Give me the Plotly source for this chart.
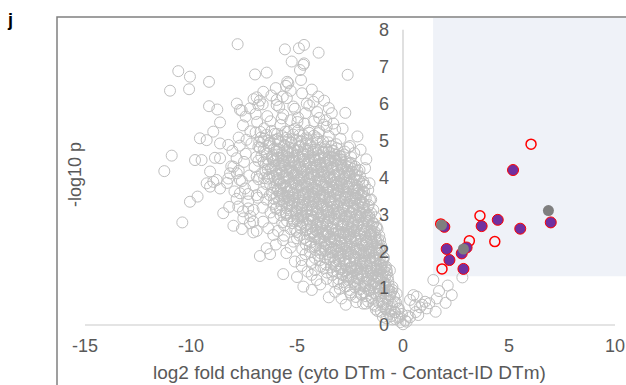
import plotly.graph_objects as go

# ---- data: log2 fold change (x) and -log10 p (y) ----
# background proteins (open grey circles), sparse outer points
outer_pts = [
    (-7.80, 7.61), (-10.60, 6.88), (-10.05, 6.73), (-9.15, 6.59), (-10.99, 6.35), (-10.09, 6.39),
    (-6.98, 6.79), (-6.43, 6.84), (-5.57, 7.47), (-4.91, 7.50), (-4.67, 7.59), (-5.25, 7.14),
    (-4.67, 7.09), (-4.86, 6.91), (-4.81, 6.64), (-5.46, 6.59), (-5.52, 6.48), (-3.98, 7.38),
    (-9.15, 5.93), (-8.76, 5.84), (-7.84, 6.00), (-8.63, 5.49), (-7.61, 5.81), (-7.42, 5.65),
    (-7.22, 5.87), (-6.90, 6.17), (-6.59, 6.32), (-9.58, 5.06), (-9.26, 5.01), (-8.95, 5.24),
    (-8.63, 4.92), (-10.91, 4.59), (-11.26, 4.17), (-9.81, 4.47), (-9.50, 4.47), (-8.87, 4.53),
    (-8.63, 4.52), (-9.10, 4.16), (-9.26, 3.84), (-9.10, 3.75), (-8.63, 3.70), (-8.16, 4.11),
    (-10.05, 3.34), (-9.69, 3.48), (-10.41, 2.78), (-8.48, 3.03), (-8.00, 2.69), (-7.53, 2.89),
    (-7.06, 2.80), (-7.06, 2.51), (-6.75, 1.87), (-6.27, 1.92), (-6.43, 2.08), (-5.65, 1.38),
    (-4.70, 1.04), (-4.78, 1.76), (-4.78, 1.60), (-4.31, 1.36), (-4.15, 1.49), (-4.07, 1.22),
    (-4.39, 2.12), (-6.12, 2.44), (-5.65, 2.30), (-5.17, 2.26),
    (-2.61, 6.78), (-5.41, 6.55), (-4.70, 7.05), (-4.00, 6.19), (-3.36, 5.74), (-2.72, 5.75),
    (-2.15, 5.11), (-2.50, 4.85), (-2.00, 4.75), (-1.73, 4.49), (-3.13, 4.61), (-4.54, 6.00),
    (-4.23, 6.05), (-5.17, 5.92), (-5.96, 5.96), (-3.29, 5.46), (-3.60, 5.37), (-2.58, 4.81),
    (-2.26, 4.29), (-1.87, 3.88), (-1.64, 3.66), (-1.79, 4.25), (-1.58, 3.84), (-1.56, 3.39),
    (-1.40, 3.12), (-1.24, 2.66), (-1.17, 2.30), (-0.93, 1.76), (-0.77, 1.49),
    (-7.69, 5.83), (-6.82, 5.96), (-6.75, 6.08), (-5.96, 6.10), (-5.67, 6.19), (-8.24, 3.97),
    (-8.24, 4.88), (-8.00, 4.29), (-7.84, 4.11), (-7.69, 3.93), (-8.95, 3.88), (-8.79, 3.93),
    (-7.69, 3.57), (-7.77, 3.21), (-7.30, 3.16), (-7.22, 2.76),
]

# background proteins, central arm of the volcano
core_pts = [
    (-7.05, 6.12), (-6.62, 5.98), (-6.21, 6.22), (-5.84, 5.91), (-5.48, 6.15), (-5.10, 5.86),
    (-4.76, 6.28), (-4.42, 5.95), (-4.05, 5.77), (-3.72, 6.08), (-6.95, 5.72), (-6.40, 5.66),
    (-5.65, 5.70), (-4.95, 5.62), (-4.60, 5.74), (-3.95, 5.61), (-3.50, 5.88), (-5.30, 6.35),
    (-6.00, 6.42), (-4.30, 6.38),
    (-7.55, 5.41), (-7.20, 5.25), (-6.88, 5.50), (-6.55, 5.33), (-6.25, 5.52), (-6.05, 5.18),
    (-5.78, 5.42), (-5.55, 5.24), (-5.30, 5.55), (-5.12, 5.31), (-4.88, 5.15), (-4.65, 5.46),
    (-4.42, 5.27), (-4.20, 5.52), (-3.98, 5.20), (-3.75, 5.43), (-3.50, 5.12), (-3.20, 5.30),
    (-2.95, 5.05), (-7.75, 5.08), (-7.38, 5.02), (-6.70, 5.08), (-6.35, 5.00), (-5.92, 5.04),
    (-5.42, 5.02), (-4.98, 5.50), (-4.50, 5.02), (-4.08, 5.08), (-3.62, 5.55), (-2.85, 5.32),
    (-5.72, 5.60), (-6.95, 5.22),
    (-8.05, 4.72), (-7.70, 4.86), (-7.42, 4.64), (-7.15, 4.92), (-6.92, 4.55), (-6.75, 4.80),
    (-6.52, 4.68), (-6.30, 4.93), (-6.12, 4.60), (-5.95, 4.78), (-5.75, 4.52), (-5.60, 4.88),
    (-5.42, 4.70), (-5.25, 4.95), (-5.10, 4.58), (-4.92, 4.82), (-4.75, 4.62), (-4.58, 4.90),
    (-4.40, 4.55), (-4.22, 4.75), (-4.05, 4.95), (-3.88, 4.60), (-3.70, 4.82), (-3.52, 4.52),
    (-3.35, 4.72), (-3.15, 4.90), (-2.95, 4.58), (-2.75, 4.70), (-2.45, 4.55), (-2.30, 4.66),
    (-7.85, 4.52), (-6.60, 4.98), (-5.88, 4.98), (-5.18, 4.78), (-4.50, 4.72), (-3.98, 4.50),
    (-3.30, 4.55), (-6.40, 4.50), (-5.50, 4.55), (-4.85, 4.98),
    (-8.10, 4.30), (-7.75, 4.18), (-7.50, 4.42), (-7.25, 4.05), (-7.00, 4.28), (-6.82, 4.45),
    (-6.65, 4.12), (-6.48, 4.35), (-6.30, 4.02), (-6.15, 4.25), (-6.00, 4.46), (-5.85, 4.10),
    (-5.70, 4.32), (-5.55, 4.05), (-5.40, 4.22), (-5.25, 4.44), (-5.10, 4.08), (-4.95, 4.30),
    (-4.80, 4.02), (-4.65, 4.18), (-4.50, 4.40), (-4.35, 4.12), (-4.20, 4.28), (-4.05, 4.05),
    (-3.90, 4.38), (-3.75, 4.15), (-3.60, 4.32), (-3.45, 4.02), (-3.30, 4.22), (-3.15, 4.45),
    (-3.00, 4.10), (-2.85, 4.30), (-2.70, 4.05), (-2.55, 4.38), (-2.40, 4.15), (-2.20, 4.05),
    (-2.05, 4.20), (-6.90, 4.02), (-5.62, 4.42), (-4.88, 4.48), (-4.12, 4.46), (-3.52, 4.45),
    (-2.90, 4.48), (-6.38, 4.22), (-5.18, 4.15), (-3.82, 4.02), (-2.62, 4.20),
    (-8.30, 3.85), (-7.95, 3.62), (-7.60, 3.90), (-7.30, 3.55), (-7.05, 3.78), (-6.82, 3.95),
    (-6.62, 3.60), (-6.45, 3.82), (-6.28, 3.52), (-6.12, 3.72), (-5.98, 3.92), (-5.82, 3.58),
    (-5.68, 3.80), (-5.52, 3.98), (-5.38, 3.62), (-5.22, 3.85), (-5.08, 3.55), (-4.92, 3.75),
    (-4.78, 3.95), (-4.62, 3.60), (-4.48, 3.82), (-4.32, 3.52), (-4.18, 3.72), (-4.02, 3.92),
    (-3.88, 3.58), (-3.72, 3.80), (-3.58, 3.98), (-3.42, 3.62), (-3.28, 3.85), (-3.12, 3.55),
    (-2.98, 3.75), (-2.82, 3.95), (-2.68, 3.60), (-2.52, 3.82), (-2.38, 3.52), (-2.22, 3.72),
    (-2.08, 3.92), (-1.92, 3.60), (-1.80, 3.78), (-6.90, 3.52), (-5.90, 3.70), (-5.45, 3.50),
    (-4.70, 3.78), (-4.10, 3.55), (-3.50, 3.72), (-3.00, 3.90), (-2.60, 3.75), (-2.15, 3.55),
    (-5.00, 3.98), (-4.40, 3.98), (-3.80, 3.50), (-6.55, 3.98), (-7.45, 3.70),
    (-8.20, 3.20), (-7.85, 3.42), (-7.55, 3.08), (-7.30, 3.35), (-7.05, 3.12), (-6.85, 3.45),
    (-6.62, 3.18), (-6.45, 3.40), (-6.25, 3.05), (-6.10, 3.28), (-5.95, 3.48), (-5.80, 3.12),
    (-5.65, 3.35), (-5.50, 3.02), (-5.35, 3.22), (-5.20, 3.45), (-5.05, 3.10), (-4.90, 3.32),
    (-4.75, 3.02), (-4.60, 3.25), (-4.45, 3.48), (-4.30, 3.12), (-4.15, 3.35), (-4.00, 3.05),
    (-3.85, 3.25), (-3.70, 3.45), (-3.55, 3.10), (-3.40, 3.32), (-3.25, 3.02), (-3.10, 3.22),
    (-2.95, 3.45), (-2.80, 3.10), (-2.65, 3.30), (-2.50, 3.02), (-2.35, 3.22), (-2.20, 3.45),
    (-2.05, 3.12), (-1.90, 3.32), (-1.75, 3.05), (-1.62, 3.25), (-1.50, 3.40), (-6.00, 3.15),
    (-5.40, 3.40), (-4.80, 3.18), (-4.20, 3.48), (-3.60, 3.25), (-3.00, 3.05), (-2.40, 3.38),
    (-1.85, 3.48), (-5.75, 3.48), (-3.95, 3.42), (-2.75, 3.45),
    (-7.60, 2.60), (-7.20, 2.95), (-6.90, 2.55), (-6.60, 2.80), (-6.35, 2.62), (-6.10, 2.90),
    (-5.90, 2.55), (-5.70, 2.78), (-5.50, 2.98), (-5.30, 2.60), (-5.15, 2.82), (-5.00, 2.52),
    (-4.85, 2.72), (-4.70, 2.95), (-4.55, 2.58), (-4.40, 2.80), (-4.25, 2.50), (-4.10, 2.70),
    (-3.95, 2.92), (-3.80, 2.55), (-3.65, 2.78), (-3.50, 2.98), (-3.35, 2.62), (-3.20, 2.85),
    (-3.05, 2.52), (-2.90, 2.72), (-2.75, 2.95), (-2.60, 2.58), (-2.45, 2.80), (-2.30, 2.52),
    (-2.15, 2.72), (-2.00, 2.95), (-1.85, 2.60), (-1.70, 2.82), (-1.55, 2.55), (-1.42, 2.75),
    (-1.30, 2.92), (-1.20, 2.60), (-4.95, 2.95), (-4.30, 2.98), (-3.60, 2.50), (-2.85, 2.50),
    (-2.20, 2.98), (-1.60, 2.98), (-3.90, 2.75), (-5.60, 2.70),
    (-6.00, 2.18), (-5.60, 2.42), (-5.30, 2.10), (-5.00, 2.35), (-4.75, 2.05), (-4.55, 2.30),
    (-4.35, 2.48), (-4.15, 2.12), (-4.00, 2.35), (-3.85, 2.02), (-3.70, 2.22), (-3.55, 2.45),
    (-3.40, 2.10), (-3.25, 2.32), (-3.10, 2.02), (-2.95, 2.25), (-2.80, 2.48), (-2.65, 2.12),
    (-2.50, 2.35), (-2.35, 2.05), (-2.20, 2.28), (-2.05, 2.48), (-1.90, 2.15), (-1.75, 2.38),
    (-1.60, 2.05), (-1.45, 2.25), (-1.32, 2.45), (-1.20, 2.10), (-1.08, 2.30), (-0.98, 2.05),
    (-3.20, 2.48), (-2.60, 2.40), (-2.00, 2.02), (-1.50, 2.45), (-3.75, 2.40), (-2.90, 2.05),
    (-2.30, 2.42), (-1.70, 2.20),
    (-5.50, 1.95), (-5.10, 1.72), (-4.60, 1.92), (-4.30, 1.68), (-4.00, 1.88), (-3.75, 1.55),
    (-3.55, 1.78), (-3.35, 1.98), (-3.20, 1.60), (-3.05, 1.82), (-2.90, 1.52), (-2.75, 1.72),
    (-2.60, 1.95), (-2.45, 1.58), (-2.30, 1.80), (-2.15, 1.52), (-2.00, 1.72), (-1.85, 1.95),
    (-1.70, 1.60), (-1.55, 1.82), (-1.40, 1.55), (-1.28, 1.75), (-1.15, 1.95), (-1.02, 1.60),
    (-0.90, 1.82), (-0.80, 1.58), (-3.00, 1.95), (-2.20, 1.98), (-1.60, 1.98), (-2.55, 1.52),
    (-1.90, 1.68), (-1.20, 1.52),
    (-5.00, 1.30), (-4.50, 1.45), (-3.60, 1.25), (-3.30, 1.45), (-3.05, 1.12), (-2.85, 1.35),
    (-2.65, 1.05), (-2.45, 1.28), (-2.30, 1.48), (-2.15, 1.15), (-2.00, 1.38), (-1.85, 1.05),
    (-1.70, 1.25), (-1.55, 1.45), (-1.42, 1.12), (-1.30, 1.32), (-1.18, 1.02), (-1.05, 1.22),
    (-0.92, 1.42), (-0.82, 1.10), (-0.72, 1.30), (-0.62, 1.48), (-1.90, 1.45), (-1.10, 1.45),
    (-2.55, 1.42), (-3.90, 1.10),
    (-4.30, 0.95), (-3.50, 0.75), (-3.20, 0.90), (-2.90, 0.72), (-2.50, 0.88), (-2.20, 0.62),
    (-1.95, 0.82), (-1.75, 0.58), (-1.60, 0.95), (-1.45, 0.72), (-1.30, 0.52), (-1.15, 0.85),
    (-1.00, 0.65), (-0.88, 0.92), (-0.75, 0.55), (-0.62, 0.78), (-0.50, 0.95), (-0.40, 0.62),
    (-0.30, 0.85), (-2.70, 0.55), (-0.95, 0.50),
    (-1.20, 0.38), (-0.95, 0.22), (-0.80, 0.42), (-0.65, 0.30), (-0.50, 0.15), (-0.38, 0.35),
    (-0.25, 0.20), (-0.12, 0.08), (0.00, 0.02), (0.10, 0.12), (-0.20, 0.45), (-0.55, 0.45),
    (0.22, 0.25), (-0.05, 0.30),
]

# background proteins in the crowded part of the arm, row by row (x values, y values)
dense_rows = [
    ([-6.72, -6.45, -6.20, -5.93, -5.70, -5.44, -5.18, -4.95, -4.70, -4.43, -4.20, -3.95],
     [5.23, 5.15, 5.26, 5.18, 5.12, 5.24, 5.16, 5.27, 5.14, 5.21, 5.13, 5.25]),
    ([-6.78, -6.55, -6.28, -6.02, -5.80, -5.52, -5.27, -5.03, -4.78, -4.52, -4.28, -4.03, -3.77, -3.52],
     [4.97, 5.05, 4.93, 5.02, 4.96, 5.07, 4.94, 5.01, 4.97, 5.06, 4.92, 5.03, 4.98, 4.95]),
    ([-6.82, -6.57, -6.33, -6.08, -5.83, -5.60, -5.35, -5.10, -4.85, -4.62, -4.37, -4.12, -3.88, -3.63, -3.38, -3.12],
     [4.83, 4.76, 4.85, 4.78, 4.74, 4.86, 4.80, 4.73, 4.84, 4.77, 4.87, 4.75, 4.81, 4.76, 4.85, 4.79]),
    ([-6.68, -6.42, -6.18, -5.95, -5.70, -5.45, -5.20, -4.97, -4.72, -4.48, -4.23, -3.98, -3.75, -3.50, -3.25, -3.00, -2.78],
     [4.57, 4.64, 4.55, 4.62, 4.58, 4.66, 4.54, 4.61, 4.57, 4.65, 4.53, 4.60, 4.67, 4.56, 4.63, 4.58, 4.62]),
    ([-6.58, -6.35, -6.10, -5.86, -5.62, -5.38, -5.13, -4.90, -4.66, -4.40, -4.17, -3.92, -3.68, -3.43, -3.20, -2.95, -2.70, -2.45],
     [4.42, 4.36, 4.44, 4.38, 4.35, 4.45, 4.39, 4.34, 4.43, 4.37, 4.46, 4.35, 4.41, 4.38, 4.44, 4.36, 4.42, 4.39]),
    ([-6.48, -6.23, -6.00, -5.75, -5.50, -5.27, -5.02, -4.78, -4.55, -4.30, -4.06, -3.82, -3.57, -3.33, -3.10, -2.85, -2.60, -2.37, -2.15],
     [4.18, 4.24, 4.16, 4.22, 4.17, 4.25, 4.19, 4.15, 4.23, 4.18, 4.26, 4.16, 4.21, 4.24, 4.17, 4.22, 4.15, 4.23, 4.18]),
    ([-6.38, -6.13, -5.90, -5.65, -5.40, -5.16, -4.92, -4.68, -4.44, -4.20, -3.95, -3.72, -3.48, -3.23, -3.00, -2.75, -2.52, -2.28, -2.03],
     [3.97, 4.04, 3.95, 4.02, 3.98, 4.06, 3.96, 4.01, 3.97, 4.05, 3.94, 4.03, 3.99, 3.95, 4.04, 3.98, 4.02, 3.96, 4.03]),
    ([-6.27, -6.03, -5.78, -5.55, -5.30, -5.06, -4.82, -4.57, -4.33, -4.10, -3.85, -3.61, -3.37, -3.12, -2.88, -2.65, -2.40, -2.16, -1.92],
     [3.82, 3.76, 3.84, 3.78, 3.74, 3.85, 3.79, 3.75, 3.83, 3.77, 3.86, 3.74, 3.81, 3.78, 3.84, 3.76, 3.82, 3.77, 3.83]),
    ([-6.18, -5.93, -5.70, -5.45, -5.20, -4.97, -4.73, -4.48, -4.25, -4.00, -3.76, -3.52, -3.28, -3.04, -2.80, -2.56, -2.32, -2.08, -1.84],
     [3.58, 3.64, 3.56, 3.62, 3.57, 3.65, 3.55, 3.61, 3.58, 3.66, 3.54, 3.60, 3.63, 3.57, 3.62, 3.55, 3.64, 3.58, 3.61]),
    ([-6.08, -5.84, -5.60, -5.36, -5.12, -4.88, -4.64, -4.40, -4.16, -3.92, -3.68, -3.44, -3.20, -2.96, -2.72, -2.48, -2.24, -2.00, -1.76],
     [3.42, 3.36, 3.44, 3.38, 3.35, 3.45, 3.39, 3.34, 3.43, 3.37, 3.46, 3.35, 3.41, 3.38, 3.44, 3.36, 3.42, 3.37, 3.43]),
    ([-5.97, -5.72, -5.48, -5.25, -5.00, -4.77, -4.53, -4.29, -4.05, -3.81, -3.57, -3.33, -3.09, -2.85, -2.61, -2.37, -2.13, -1.89, -1.66],
     [3.18, 3.24, 3.16, 3.22, 3.17, 3.25, 3.15, 3.21, 3.18, 3.26, 3.14, 3.20, 3.23, 3.17, 3.22, 3.15, 3.24, 3.18, 3.21]),
    ([-5.78, -5.53, -5.30, -5.06, -4.82, -4.58, -4.34, -4.10, -3.86, -3.62, -3.38, -3.14, -2.90, -2.66, -2.42, -2.18, -1.94, -1.70, -1.50],
     [2.98, 3.04, 2.95, 3.02, 2.97, 3.05, 2.96, 3.01, 2.97, 3.06, 2.94, 3.03, 2.99, 2.95, 3.04, 2.97, 3.02, 2.96, 3.03]),
    ([-5.47, -5.22, -4.98, -4.74, -4.50, -4.26, -4.02, -3.78, -3.54, -3.30, -3.06, -2.82, -2.58, -2.34, -2.10, -1.86, -1.62, -1.40],
     [2.82, 2.76, 2.84, 2.78, 2.74, 2.85, 2.79, 2.75, 2.83, 2.77, 2.86, 2.74, 2.81, 2.78, 2.84, 2.76, 2.82, 2.77]),
    ([-5.08, -4.84, -4.60, -4.36, -4.12, -3.88, -3.64, -3.40, -3.16, -2.92, -2.68, -2.44, -2.20, -1.96, -1.72, -1.48, -1.27],
     [2.58, 2.64, 2.56, 2.62, 2.57, 2.65, 2.55, 2.61, 2.58, 2.66, 2.54, 2.60, 2.63, 2.57, 2.62, 2.55, 2.64]),
    ([-4.88, -4.64, -4.40, -4.16, -3.92, -3.68, -3.44, -3.20, -2.96, -2.72, -2.48, -2.24, -2.00, -1.76, -1.52, -1.30, -1.12],
     [2.42, 2.36, 2.44, 2.38, 2.35, 2.45, 2.39, 2.34, 2.43, 2.37, 2.46, 2.35, 2.41, 2.38, 2.44, 2.36, 2.42]),
    ([-4.58, -4.34, -4.10, -3.86, -3.62, -3.38, -3.14, -2.90, -2.66, -2.42, -2.18, -1.94, -1.70, -1.46, -1.24, -1.03],
     [2.18, 2.24, 2.16, 2.22, 2.17, 2.25, 2.15, 2.21, 2.18, 2.26, 2.14, 2.20, 2.23, 2.17, 2.22, 2.15]),
    ([-4.38, -4.14, -3.90, -3.66, -3.42, -3.18, -2.94, -2.70, -2.46, -2.22, -1.98, -1.74, -1.50, -1.28, -1.08],
     [1.98, 2.04, 1.95, 2.02, 1.97, 2.05, 1.96, 2.01, 1.97, 2.06, 1.94, 2.03, 1.99, 1.95, 2.04]),
    ([-4.16, -3.92, -3.68, -3.44, -3.20, -2.96, -2.72, -2.48, -2.24, -2.00, -1.76, -1.52, -1.30, -1.10, -0.93],
     [1.82, 1.76, 1.84, 1.78, 1.74, 1.85, 1.79, 1.75, 1.83, 1.77, 1.86, 1.74, 1.81, 1.78, 1.84]),
    ([-3.88, -3.64, -3.40, -3.16, -2.92, -2.68, -2.44, -2.20, -1.96, -1.72, -1.48, -1.26, -1.05, -0.86],
     [1.58, 1.64, 1.56, 1.62, 1.57, 1.65, 1.55, 1.61, 1.58, 1.66, 1.54, 1.60, 1.63, 1.57]),
    ([-3.58, -3.34, -3.10, -2.86, -2.62, -2.38, -2.14, -1.90, -1.66, -1.42, -1.20, -0.98, -0.76],
     [1.42, 1.36, 1.44, 1.38, 1.35, 1.45, 1.39, 1.34, 1.43, 1.37, 1.46, 1.35, 1.41]),
    ([-3.28, -3.04, -2.80, -2.56, -2.32, -2.08, -1.84, -1.60, -1.36, -1.14, -0.92, -0.70],
     [1.18, 1.24, 1.16, 1.22, 1.17, 1.25, 1.15, 1.21, 1.18, 1.26, 1.14, 1.20]),
    ([-2.98, -2.74, -2.50, -2.26, -2.02, -1.78, -1.54, -1.30, -1.08, -0.86, -0.66, -0.50],
     [0.98, 1.04, 0.95, 1.02, 0.97, 1.05, 0.96, 1.01, 0.97, 1.06, 0.94, 1.03]),
    ([-2.46, -2.22, -1.98, -1.74, -1.50, -1.26, -1.04, -0.82, -0.60, -0.42],
     [0.82, 0.76, 0.84, 0.78, 0.74, 0.85, 0.79, 0.75, 0.83, 0.77]),
    ([-1.88, -1.64, -1.40, -1.16, -0.94, -0.72, -0.52, -0.33],
     [0.58, 0.64, 0.56, 0.62, 0.57, 0.65, 0.55, 0.61]),
    ([-1.28, -1.04, -0.82, -0.60, -0.40, -0.22],
     [0.42, 0.36, 0.44, 0.38, 0.35, 0.43]),
    ([-0.78, -0.56, -0.36, -0.16],
     [0.18, 0.24, 0.16, 0.22]),
]

# background proteins at the very centre of the arm, between the rows above
centre_rows = [
    ([-5.96, -5.71, -5.47, -5.22, -4.98, -4.73, -4.49, -4.24, -4.00, -3.75, -3.51, -3.30],
     [4.71, 4.66, 4.74, 4.68, 4.73, 4.65, 4.72, 4.69, 4.75, 4.67, 4.70, 4.73]),
    ([-6.15, -5.90, -5.66, -5.41, -5.17, -4.92, -4.68, -4.43, -4.19, -3.94, -3.70, -3.45, -3.21, -2.96],
     [4.49, 4.53, 4.47, 4.52, 4.46, 4.54, 4.50, 4.47, 4.55, 4.48, 4.52, 4.46, 4.53, 4.49]),
    ([-6.06, -5.82, -5.57, -5.33, -5.08, -4.84, -4.59, -4.35, -4.10, -3.86, -3.61, -3.37, -3.12, -2.88, -2.63, -2.42],
     [4.31, 4.27, 4.33, 4.28, 4.32, 4.26, 4.34, 4.29, 4.31, 4.27, 4.33, 4.28, 4.32, 4.26, 4.30, 4.33]),
    ([-5.96, -5.71, -5.47, -5.22, -4.98, -4.73, -4.49, -4.24, -4.00, -3.75, -3.51, -3.26, -3.02, -2.77, -2.53, -2.28],
     [4.09, 4.13, 4.07, 4.12, 4.06, 4.14, 4.10, 4.07, 4.15, 4.08, 4.12, 4.06, 4.13, 4.09, 4.11, 4.07]),
    ([-5.86, -5.61, -5.37, -5.12, -4.88, -4.63, -4.39, -4.14, -3.90, -3.65, -3.41, -3.16, -2.92, -2.67, -2.43, -2.18],
     [3.91, 3.87, 3.93, 3.88, 3.92, 3.86, 3.94, 3.89, 3.91, 3.87, 3.93, 3.88, 3.92, 3.86, 3.90, 3.93]),
    ([-5.76, -5.51, -5.27, -5.02, -4.78, -4.53, -4.29, -4.04, -3.80, -3.55, -3.31, -3.06, -2.82, -2.57, -2.33, -2.08],
     [3.69, 3.73, 3.67, 3.72, 3.66, 3.74, 3.70, 3.67, 3.75, 3.68, 3.72, 3.66, 3.73, 3.69, 3.71, 3.67]),
    ([-5.66, -5.41, -5.17, -4.92, -4.68, -4.43, -4.19, -3.94, -3.70, -3.45, -3.21, -2.96, -2.72, -2.47, -2.23, -1.98],
     [3.51, 3.47, 3.53, 3.48, 3.52, 3.46, 3.54, 3.49, 3.51, 3.47, 3.53, 3.48, 3.52, 3.46, 3.50, 3.53]),
    ([-5.46, -5.21, -4.97, -4.72, -4.48, -4.23, -3.99, -3.74, -3.50, -3.25, -3.01, -2.76, -2.52, -2.27, -2.03, -1.84],
     [3.29, 3.33, 3.27, 3.32, 3.26, 3.34, 3.30, 3.27, 3.35, 3.28, 3.32, 3.26, 3.33, 3.29, 3.31, 3.27]),
    ([-5.26, -5.01, -4.77, -4.52, -4.28, -4.03, -3.79, -3.54, -3.30, -3.05, -2.81, -2.56, -2.32, -2.07, -1.83],
     [3.11, 3.07, 3.13, 3.08, 3.12, 3.06, 3.14, 3.09, 3.11, 3.07, 3.13, 3.08, 3.12, 3.06, 3.10]),
    ([-4.96, -4.71, -4.47, -4.22, -3.98, -3.73, -3.49, -3.24, -3.00, -2.75, -2.51, -2.26, -2.02, -1.77, -1.60],
     [2.89, 2.93, 2.87, 2.92, 2.86, 2.94, 2.90, 2.87, 2.95, 2.88, 2.92, 2.86, 2.93, 2.89, 2.91]),
    ([-4.56, -4.31, -4.07, -3.82, -3.58, -3.33, -3.09, -2.84, -2.60, -2.35, -2.11, -1.86, -1.62, -1.47],
     [2.71, 2.67, 2.73, 2.68, 2.72, 2.66, 2.74, 2.69, 2.71, 2.67, 2.73, 2.68, 2.72, 2.66]),
    ([-4.26, -4.01, -3.77, -3.52, -3.28, -3.03, -2.79, -2.54, -2.30, -2.05, -1.81, -1.56, -1.34],
     [2.49, 2.53, 2.47, 2.52, 2.46, 2.54, 2.50, 2.47, 2.55, 2.48, 2.52, 2.46, 2.53]),
    ([-3.96, -3.71, -3.47, -3.22, -2.98, -2.73, -2.49, -2.24, -2.00, -1.75, -1.51, -1.26],
     [2.31, 2.27, 2.33, 2.28, 2.32, 2.26, 2.34, 2.29, 2.31, 2.27, 2.33, 2.28]),
    ([-3.76, -3.51, -3.27, -3.02, -2.78, -2.53, -2.29, -2.04, -1.80, -1.55, -1.33, -1.13],
     [2.09, 2.13, 2.07, 2.12, 2.06, 2.14, 2.10, 2.07, 2.15, 2.08, 2.12, 2.06]),
    ([-3.56, -3.31, -3.07, -2.82, -2.58, -2.33, -2.09, -1.84, -1.60, -1.37, -1.16],
     [1.91, 1.87, 1.93, 1.88, 1.92, 1.86, 1.94, 1.89, 1.91, 1.87, 1.93]),
    ([-3.26, -3.01, -2.77, -2.52, -2.28, -2.03, -1.79, -1.54, -1.32, -1.10],
     [1.69, 1.73, 1.67, 1.72, 1.66, 1.74, 1.70, 1.67, 1.75, 1.68]),
    ([-2.96, -2.71, -2.47, -2.22, -1.98, -1.73, -1.50, -1.27, -1.04, -0.90],
     [1.51, 1.47, 1.53, 1.48, 1.52, 1.46, 1.54, 1.49, 1.51, 1.47]),
    ([-2.66, -2.41, -2.17, -1.92, -1.68, -1.45, -1.22, -1.00, -0.82],
     [1.29, 1.33, 1.27, 1.32, 1.26, 1.34, 1.30, 1.27, 1.33]),
    ([-2.26, -2.01, -1.77, -1.52, -1.28, -1.05, -0.85, -0.68],
     [1.11, 1.07, 1.13, 1.08, 1.12, 1.06, 1.14, 1.09]),
    ([-1.86, -1.61, -1.37, -1.14, -0.92, -0.72, -0.56],
     [0.89, 0.93, 0.87, 0.92, 0.86, 0.94, 0.90]),
]

# background proteins with positive fold change
right_pts = [
    (0.17, 0.09), (0.33, 0.21), (0.72, 0.27), (0.57, 0.54), (0.33, 0.68), (0.49, 0.81),
    (0.65, 0.77), (0.80, 0.48), (1.04, 0.63), (1.12, 0.45), (1.24, 0.59), (1.59, 0.72),
    (1.54, 0.36), (2.01, 0.60), (2.30, 0.81), (1.70, 0.92), (2.11, 1.07), (2.80, 1.29),
    (1.43, 1.22), (0.90, 0.55), (0.60, 0.35),
]

# significant hits (red open circles)
sig_x = [6.04, 3.63, 3.13, 4.33, 1.84, 1.78]
sig_y = [4.90, 2.96, 2.28, 2.26, 1.52, 2.74]

# significant hits of the annotated class (purple)
purple_x = [5.19, 4.47, 3.71, 5.53, 6.97, 1.95, 2.06, 2.19, 2.77, 3.00, 2.85]
purple_y = [4.20, 2.85, 2.68, 2.61, 2.78, 2.66, 2.06, 1.76, 1.94, 2.10, 1.52]

# significant hits of a second class (dark grey)
dgrey_x = [1.82, 2.85, 6.86]
dgrey_y = [2.71, 2.06, 3.10]

# axis ticks and significance window
x_ticks = [-15, -10, -5, 0, 5, 10]
x_tick_text = ["-15", "-10", "-5", "0", "5", "10"]
y_ticks = [0, 1, 2, 3, 4, 5, 6, 7, 8]
fc_cut = 1.42
p_cut = 1.32

grey_x = [p[0] for p in outer_pts + core_pts + right_pts]
grey_y = [p[1] for p in outer_pts + core_pts + right_pts]
for xs, ys in dense_rows + centre_rows:
    grey_x += xs
    grey_y += ys

W, H = 626, 385
PX_PER_X = 21.2          # pixels per log2 unit
PX_PER_Y = 36.9          # pixels per -log10 unit
X0_PX, Y0_PX = 403, 325  # pixel position of the origin
x_range = [-X0_PX / PX_PER_X, (W - X0_PX) / PX_PER_X]
y_range = [-(H - Y0_PX) / PX_PER_Y, Y0_PX / PX_PER_Y]

FONT = "Liberation Sans, Arial, sans-serif"
TXT = "#595959"

fig = go.Figure()
fig.add_trace(go.Scatter(
    x=grey_x, y=grey_y, mode="markers",
    marker=dict(symbol="circle-open", size=11, color="#bfbfbf", line=dict(width=1)),
    hoverinfo="skip", showlegend=False))
fig.add_trace(go.Scatter(
    x=sig_x, y=sig_y, mode="markers",
    marker=dict(symbol="circle-open", size=10, color="#ff0000", line=dict(width=1.5)),
    showlegend=False))
fig.add_trace(go.Scatter(
    x=purple_x, y=purple_y, mode="markers",
    marker=dict(symbol="circle", size=11, color="#7030a0", line=dict(width=1, color="#ff0000")),
    showlegend=False))
fig.add_trace(go.Scatter(
    x=dgrey_x, y=dgrey_y, mode="markers",
    marker=dict(symbol="circle", size=11, color="#7f7f7f", line=dict(width=0)),
    showlegend=False))

shapes = [
    # significance window
    dict(type="rect", xref="x", yref="y", x0=fc_cut, x1=x_range[1] + 1,
         y0=p_cut, y1=(Y0_PX - 18) / PX_PER_Y,
         fillcolor="#eff2f8", line=dict(width=0), layer="below"),
    # axis lines through the origin
    dict(type="line", xref="x", yref="y", x0=x_ticks[0], x1=x_ticks[-1], y0=0, y1=0,
         line=dict(color="#c9c9c9", width=1.2), layer="below"),
    dict(type="line", xref="x", yref="y", x0=0, x1=0, y0=0, y1=y_ticks[-1],
         line=dict(color="#d6d6d6", width=1.5), layer="below"),
    # chart frame
    dict(type="rect", xref="paper", yref="paper", x0=57 / W, x1=1.2,
         y0=-0.2, y1=1 - 17 / H, line=dict(color="#808080", width=1.5),
         fillcolor="rgba(0,0,0,0)", layer="above"),
]

annotations = [
    dict(text="<b>j</b>", xref="paper", yref="paper", x=10 / W, y=1 - 20 / H,
         showarrow=False, font=dict(family=FONT, size=18, color="#000000"),
         xanchor="center", yanchor="middle"),
    dict(text="log2 fold change (cyto DTm - Contact-ID DTm)", xref="paper", yref="paper",
         x=349 / W, y=1 - 372 / H, showarrow=False,
         font=dict(family=FONT, size=19, color=TXT), xanchor="center", yanchor="middle"),
    dict(text="-log10 p", xref="paper", yref="paper", x=75 / W, y=1 - 175 / H,
         textangle=-90, showarrow=False,
         font=dict(family=FONT, size=18, color=TXT), xanchor="center", yanchor="middle"),
]

fig.update_layout(
    width=W, height=H, autosize=False,
    margin=dict(l=0, r=0, t=0, b=0),
    paper_bgcolor="white", plot_bgcolor="white",
    showlegend=False,
    shapes=shapes, annotations=annotations,
    xaxis=dict(range=x_range, showgrid=False, zeroline=False, showline=False,
               tickvals=x_ticks, ticktext=x_tick_text, ticks="", anchor="free",
               position=(H - Y0_PX) / H,
               tickfont=dict(family=FONT, size=18, color=TXT), ticklabelstandoff=8,
               fixedrange=True),
    yaxis=dict(range=y_range, showgrid=False, zeroline=False, showline=False,
               tickvals=y_ticks, ticks="", anchor="free", position=X0_PX / W, side="left",
               tickfont=dict(family=FONT, size=18, color=TXT), ticklabelstandoff=14,
               fixedrange=True),
)

fig.write_html("out.html")
